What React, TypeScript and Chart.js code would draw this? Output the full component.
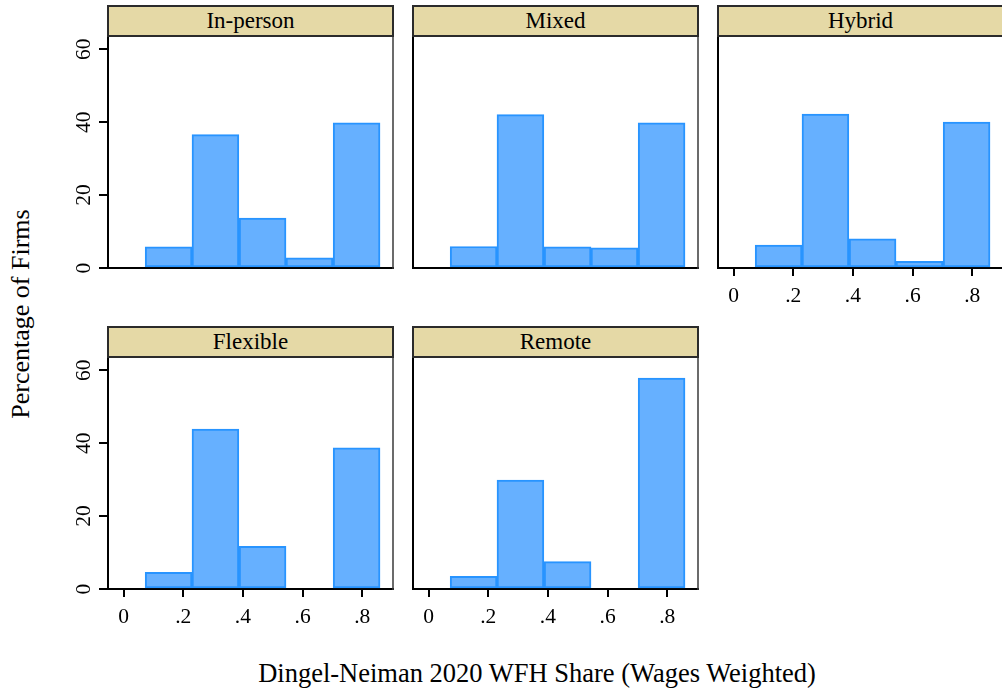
import React, { useEffect, useRef } from "react";
import { Chart, registerables } from "chart.js";

Chart.register(...registerables);

// ---------- data ----------
const panelTitles = ["In-person", "Mixed", "Hybrid", "Flexible", "Remote"];
const binCenters = [0.151, 0.308, 0.466, 0.623, 0.781];
const inPerson = [5.8, 36.6, 13.7, 2.8, 39.8];
const mixed = [5.9, 42.1, 5.8, 5.5, 39.8];
const hybrid = [6.3, 42.2, 8.0, 1.8, 40.0];
const flexible = [4.6, 43.9, 11.7, 0, 38.7];
const remote = [3.5, 29.9, 7.5, 0, 57.9];
const xTickValues = [0, 0.2, 0.4, 0.6, 0.8];
const xTickLabels = ["0", ".2", ".4", ".6", ".8"];
const yTickValues = [0, 20, 40, 60];
const yTickLabels = ["0", "20", "40", "60"];
const xAxisTitle = "Dingel-Neiman 2020 WFH Share (Wages Weighted)";
const yAxisTitle = "Percentage of Firms";

// ---------- layout / style ----------
const FONT = '"Liberation Serif", "Times New Roman", Times, serif';
const FILL = "rgb(102,176,255)";
const EDGE = "rgb(40,148,255)";
const STRIP = "#E5D9A6";
const X_MIN = -0.052;
const X_MAX = 0.903;
const Y_MIN = 0;
const Y_MAX = 63.65;
const PLOT_W = 285;
const PLOT_H = 232;
const AX_W = 60;
const AX_H = 50;
const PAD_T = 20;
const PAD_R = 4;
const CW = AX_W + PLOT_W + PAD_R;
const CH = PAD_T + PLOT_H + AX_H;
const COL_X = [108, 413, 718];
const ROW_Y = [36, 357];

const framePlugin = {
  id: "frame",
  afterDraw(chart: any) {
    const { ctx, chartArea } = chart;
    ctx.save();
    ctx.strokeStyle = "#3a3a3a";
    ctx.lineWidth = 1.5;
    ctx.beginPath();
    ctx.moveTo(chartArea.right, chartArea.top);
    ctx.lineTo(chartArea.right, chartArea.bottom + 1);
    ctx.stroke();
    ctx.restore();
  },
};

type PanelProps = {
  title: string;
  values: number[];
  left: number;
  top: number;
  showX: boolean;
  showY: boolean;
};

function Panel({ title, values, left, top, showX, showY }: PanelProps) {
  const ref = useRef<HTMLCanvasElement>(null);
  useEffect(() => {
    const chart = new Chart(ref.current as HTMLCanvasElement, {
      type: "bar",
      data: {
        datasets: [
          {
            data: binCenters.map((x, i) => ({ x, y: values[i] })),
            backgroundColor: FILL,
            borderColor: EDGE,
            borderWidth: 2,
            borderSkipped: false,
            barPercentage: 1,
            categoryPercentage: 1,
            grouped: false,
          } as any,
        ],
      },
      options: {
        responsive: false,
        animation: false,
        events: [],
        layout: { padding: { top: PAD_T, right: PAD_R, left: 0, bottom: 0 } },
        plugins: {
          legend: { display: false },
          tooltip: { enabled: false },
          title: { display: false },
        },
        scales: {
          x: {
            type: "linear",
            min: X_MIN,
            max: X_MAX,
            offset: false,
            afterBuildTicks: (s: any) => {
              s.ticks = xTickValues.map((v) => ({ value: v }));
            },
            afterFit: (s: any) => {
              s.height = AX_H;
            },
            grid: {
              display: true,
              offset: false,
              drawOnChartArea: false,
              drawTicks: showX,
              tickLength: 8,
              color: "#000",
              lineWidth: 2,
            },
            border: { display: true, color: "#000", width: 2 },
            ticks: {
              display: showX,
              autoSkip: false,
              minRotation: 0,
              maxRotation: 0,
              padding: 7,
              color: "#000",
              font: { family: FONT, size: 21.5 },
              callback: (_v: any, i: number) => xTickLabels[i],
            },
          },
          y: {
            type: "linear",
            min: Y_MIN,
            max: Y_MAX,
            afterBuildTicks: (s: any) => {
              s.ticks = yTickValues.map((v) => ({ value: v }));
            },
            afterFit: (s: any) => {
              s.width = AX_W;
            },
            grid: {
              display: true,
              drawOnChartArea: false,
              drawTicks: showY,
              tickLength: 9,
              color: "#000",
              lineWidth: 2,
            },
            border: { display: true, color: "#000", width: 2 },
            ticks: {
              display: showY,
              autoSkip: false,
              minRotation: 90,
              maxRotation: 90,
              crossAlign: "center",
              padding: 4,
              color: "#000",
              font: { family: FONT, size: 21.5 },
              callback: (_v: any, i: number) => yTickLabels[i],
            },
          },
        },
      } as any,
      plugins: [framePlugin],
    });
    return () => chart.destroy();
  }, []);

  return (
    <>
      <canvas
        ref={ref}
        width={CW}
        height={CH}
        style={{ position: "absolute", left: left - AX_W, top: top - PAD_T, width: CW, height: CH }}
      />
      <div
        style={{
          position: "absolute",
          left: left - 1,
          top: top - 31,
          width: PLOT_W + 2,
          height: 32,
          boxSizing: "border-box",
          border: "2px solid #2b2b2b",
          background: STRIP,
          fontFamily: FONT,
          fontSize: 23,
          lineHeight: "28px",
          textAlign: "center",
          color: "#000",
          whiteSpace: "nowrap",
        }}
      >
        {title}
      </div>
    </>
  );
}

export default function App() {
  const series = [inPerson, mixed, hybrid, flexible, remote];
  const cells = [
    { col: 0, row: 0, showX: false },
    { col: 1, row: 0, showX: false },
    { col: 2, row: 0, showX: true },
    { col: 0, row: 1, showX: true },
    { col: 1, row: 1, showX: true },
  ];
  return (
    <div
      style={{
        position: "fixed",
        left: 0,
        top: 0,
        width: 1002,
        height: 692,
        overflow: "hidden",
        background: "#fff",
        fontFamily: FONT,
      }}
    >
      {cells.map((c, i) => (
        <Panel
          key={panelTitles[i]}
          title={panelTitles[i]}
          values={series[i]}
          left={COL_X[c.col]}
          top={ROW_Y[c.row]}
          showX={c.showX}
          showY={c.col === 0}
        />
      ))}
      <div
        style={{
          position: "absolute",
          left: 21,
          top: 314,
          transform: "translate(-50%, -50%) rotate(-90deg)",
          fontSize: 26,
          lineHeight: "26px",
          whiteSpace: "nowrap",
          color: "#000",
        }}
      >
        {yAxisTitle}
      </div>
      <div
        style={{
          position: "absolute",
          left: 537,
          top: 660,
          transform: "translateX(-50%)",
          fontSize: 26.5,
          lineHeight: "26px",
          whiteSpace: "nowrap",
          color: "#000",
        }}
      >
        {xAxisTitle}
      </div>
    </div>
  );
}
